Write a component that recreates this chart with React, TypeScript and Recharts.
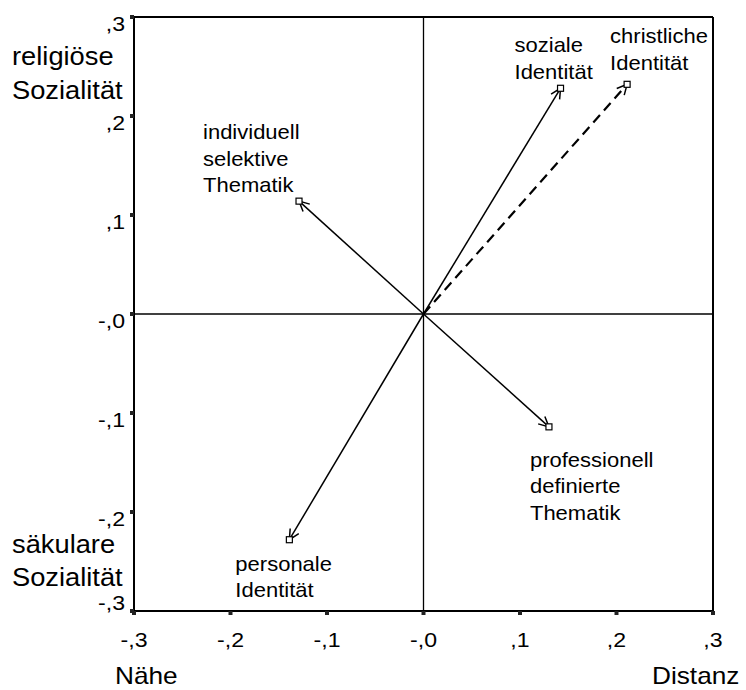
import React from 'react';
import { ScatterChart, Scatter, XAxis, YAxis, ReferenceLine } from 'recharts';

// ---- data ----
const itemNames = [
  'soziale Identität',
  'christliche Identität',
  'individuell selektive Thematik',
  'professionell definierte Thematik',
  'personale Identität',
];
const itemLabelLines = [
  ['soziale', 'Identität'],
  ['christliche', 'Identität'],
  ['individuell', 'selektive', 'Thematik'],
  ['professionell', 'definierte', 'Thematik'],
  ['personale', 'Identität'],
];
const dim1 = [0.142, 0.211, -0.129, 0.13, -0.139];
const dim2 = [0.228, 0.232, 0.114, -0.114, -0.228];
const dashedItems = ['christliche Identität'];

const axisTicks = [-0.3, -0.2, -0.1, 0, 0.1, 0.2, 0.3];
const xTickLabels = ['-,3', '-,2', '-,1', '-,0', ',1', ',2', ',3'];
const yTickLabels = ['-,3', '-,2', '-,1', '-,0', ',1', ',2', ',3'];

const yTitleTop = ['religiöse', 'Sozialität'];
const yTitleBottom = ['säkulare', 'Sozialität'];
const xTitleLeft = 'Nähe';
const xTitleRight = 'Distanz';

// ---- layout / style ----
const FONT = '"Liberation Sans", Arial, Helvetica, sans-serif';
const W = 746;
const H = 690;
const labelOffsets = [
  [-46, -36],
  [-17, -41],
  [-96, -62],
  [-19, 40],
  [-54, 31],
];

const seriesData = itemNames.map((name, i) => [
  { x: 0, y: 0, end: false, i },
  { x: dim1[i], y: dim2[i], end: true, i },
]);

const PointShape = (props: any) => {
  const { cx, cy, payload } = props;
  if (!payload || !payload.end || cx == null || cy == null) return <g />;
  const i = payload.i;
  const [dx, dy] = labelOffsets[i];
  return (
    <g>
      <rect x={cx - 3} y={cy - 3} width={6} height={6} fill="#fff" stroke="#000" strokeWidth={1.2} />
      <text
        transform={`translate(${cx + dx} ${cy + dy}) scale(1.1 1)`}
        fontSize={20}
        fill="#000"
        fontFamily={FONT}
      >
        {itemLabelLines[i].map((t, k) => (
          <tspan key={k} x={0} dy={k === 0 ? 0 : 26.5}>
            {t}
          </tspan>
        ))}
      </text>
    </g>
  );
};

const XTick = (props: any) => {
  const { x, y, payload } = props;
  const idx = axisTicks.findIndex((t) => Math.abs(t - payload.value) < 1e-9);
  return (
    <text
      transform={`translate(${x} ${y + 15}) scale(1.1 1)`}
      textAnchor="middle"
      fontSize={21}
      fill="#000"
      fontFamily={FONT}
    >
      {xTickLabels[idx]}
    </text>
  );
};

const YTick = (props: any) => {
  const { x, y, payload } = props;
  const idx = axisTicks.findIndex((t) => Math.abs(t - payload.value) < 1e-9);
  const base = idx === 0 ? y - 1 : y + 14;
  return (
    <text
      transform={`translate(${x} ${base}) scale(1.1 1)`}
      textAnchor="end"
      fontSize={21}
      fill="#000"
      fontFamily={FONT}
    >
      {yTickLabels[idx]}
    </text>
  );
};

const Title = ({ x, y, lines, size, sx, gap }: any) => (
  <text transform={`translate(${x} ${y}) scale(${sx} 1)`} fontSize={size} fill="#000" fontFamily={FONT}>
    {lines.map((t: string, k: number) => (
      <tspan key={k} x={0} dy={k === 0 ? 0 : gap}>
        {t}
      </tspan>
    ))}
  </text>
);

export default function App() {
  return (
    <div style={{ position: 'absolute', left: 0, top: 0, width: W, height: H, background: '#fff' }}>
      <svg width={0} height={0} style={{ position: 'absolute' }}>
        <defs>
          <marker
            id="arrowHead"
            viewBox="0 0 12 12"
            refX={11}
            refY={6}
            markerWidth={12}
            markerHeight={12}
            markerUnits="userSpaceOnUse"
            orient="auto"
          >
            <path d="M1 1 L11 6 L1 11" fill="none" stroke="#000" strokeWidth={1.5} />
          </marker>
        </defs>
      </svg>
      <ScatterChart width={W} height={H} margin={{ top: 17, right: 33, bottom: 39, left: 74 }}>
        <XAxis
          type="number"
          dataKey="x"
          domain={[-0.3, 0.3]}
          ticks={axisTicks}
          height={40}
          axisLine={{ stroke: '#000', strokeWidth: 2 }}
          tickLine={{ stroke: '#222', strokeWidth: 4 }}
          tickSize={4}
          tickMargin={17}
          tick={<XTick />}
          interval={0}
          allowDataOverflow
        />
        <YAxis
          type="number"
          dataKey="y"
          domain={[-0.3, 0.3]}
          ticks={axisTicks}
          width={60}
          axisLine={{ stroke: '#000', strokeWidth: 2 }}
          tickLine={{ stroke: '#222', strokeWidth: 4 }}
          tickSize={4}
          tickMargin={5}
          tick={<YTick />}
          interval={0}
          allowDataOverflow
        />
        <ReferenceLine x={0} stroke="#000" strokeWidth={1.3} />
        <ReferenceLine y={0} stroke="#000" strokeWidth={1.3} />
        <ReferenceLine x={0.3} stroke="#000" strokeWidth={2} />
        <ReferenceLine y={0.3} stroke="#000" strokeWidth={2} />
        {seriesData.map((d, i) => (
          <Scatter
            key={itemNames[i]}
            name={itemNames[i]}
            data={d}
            fill="#000"
            isAnimationActive={false}
            lineType="joint"
            line={{
              stroke: '#000',
              strokeWidth: dashedItems.includes(itemNames[i]) ? 2.2 : 1.5,
              strokeDasharray: dashedItems.includes(itemNames[i]) ? '10 6' : undefined,
              markerEnd: 'url(#arrowHead)',
            }}
            shape={<PointShape />}
          />
        ))}
      </ScatterChart>
      <svg width={W} height={H} style={{ position: 'absolute', left: 0, top: 0, pointerEvents: 'none' }}>
        <Title x={12} y={65} lines={yTitleTop} size={26} sx={1.05} gap={34} />
        <Title x={12} y={553} lines={yTitleBottom} size={26} sx={1.05} gap={33} />
        <Title x={115} y={684} lines={[xTitleLeft]} size={23} sx={1.14} gap={0} />
        <Title x={652} y={684} lines={[xTitleRight]} size={23} sx={1.14} gap={0} />
      </svg>
    </div>
  );
}
